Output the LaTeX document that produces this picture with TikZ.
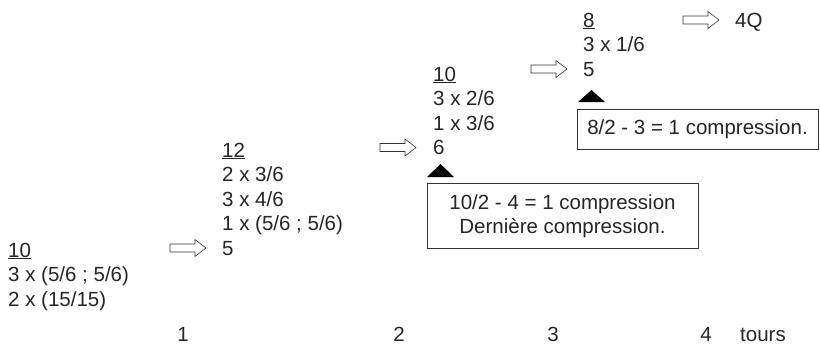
\documentclass[tikz,border=0pt]{standalone}
\usepackage{fontspec}
\setmainfont{Liberation Sans}
\newcommand\txtsize{\fontsize{20.5}{24.5}\selectfont}
\tikzset{
  txt/.style={font=\txtsize, inner sep=0pt, align=left, anchor=base west, text=black!85},
  lbl/.style={font=\txtsize, inner sep=0pt, anchor=base, text=black!85},
  notebox/.style={draw=black!80, line width=0.8pt, fill=white, font=\txtsize, align=center, inner sep=0pt, text=black!85},
  marker/.style={fill=black},
  blockarrow/.pic={\draw[line width=0.6pt, draw=black!80, fill=white]
     (0,-4) -- (25,-4) -- (25,-8.5) -- (36,0) -- (25,8.5) -- (25,4) -- (0,4) -- cycle;}
}
\begin{document}
\begin{tikzpicture}[x=1pt,y=-1pt]
\fill[white] (0,0) rectangle (820,346);
\useasboundingbox (0,0) rectangle (820,346);

% text blocks (anchored at the baseline of their last line)
\node[txt] (b1) at (8,306) {\underline{10}\\3 x (5/6 ; 5/6)\\2 x (15/15)};
\node[txt] (b2) at (222,255) {\underline{12}\\2 x 3/6\\3 x 4/6\\1 x (5/6 ; 5/6)\\5};
\node[txt] (b3) at (433,154.5) {\underline{10}\\3 x 2/6\\1 x 3/6\\6};
\node[txt] (b4) at (583,76) {\underline{8}\\3 x 1/6\\5};
\node[txt] (q) at (735,27) {4Q};

% hollow arrows
\pic at (170,248) {blockarrow};
\pic at (380,147.5) {blockarrow};
\pic at (531,69) {blockarrow};
\pic at (683,20) {blockarrow};

% triangles
\fill[marker] (427,177) -- (454,177) -- (440.5,164) -- cycle;
\fill[marker] (578,102) -- (605,102) -- (591.5,90) -- cycle;

% boxes
\node[notebox, minimum width=271pt, minimum height=65pt] (n2) at (562.5,216)
  {10/2 - 4 = 1 compression\\Dernière compression.};
\node[notebox, minimum width=241pt, minimum height=40pt] (n3) at (697.5,129)
  {8/2 - 3 = 1 compression.};

% bottom labels
\node[lbl] (t1) at (183,341) {1};
\node[lbl] (t2) at (399,341) {2};
\node[lbl] (t3) at (553,341) {3};
\node[lbl] (t4) at (706,341) {4};
\node[txt] (tours) at (740,341) {tours};
\end{tikzpicture}
\end{document}
